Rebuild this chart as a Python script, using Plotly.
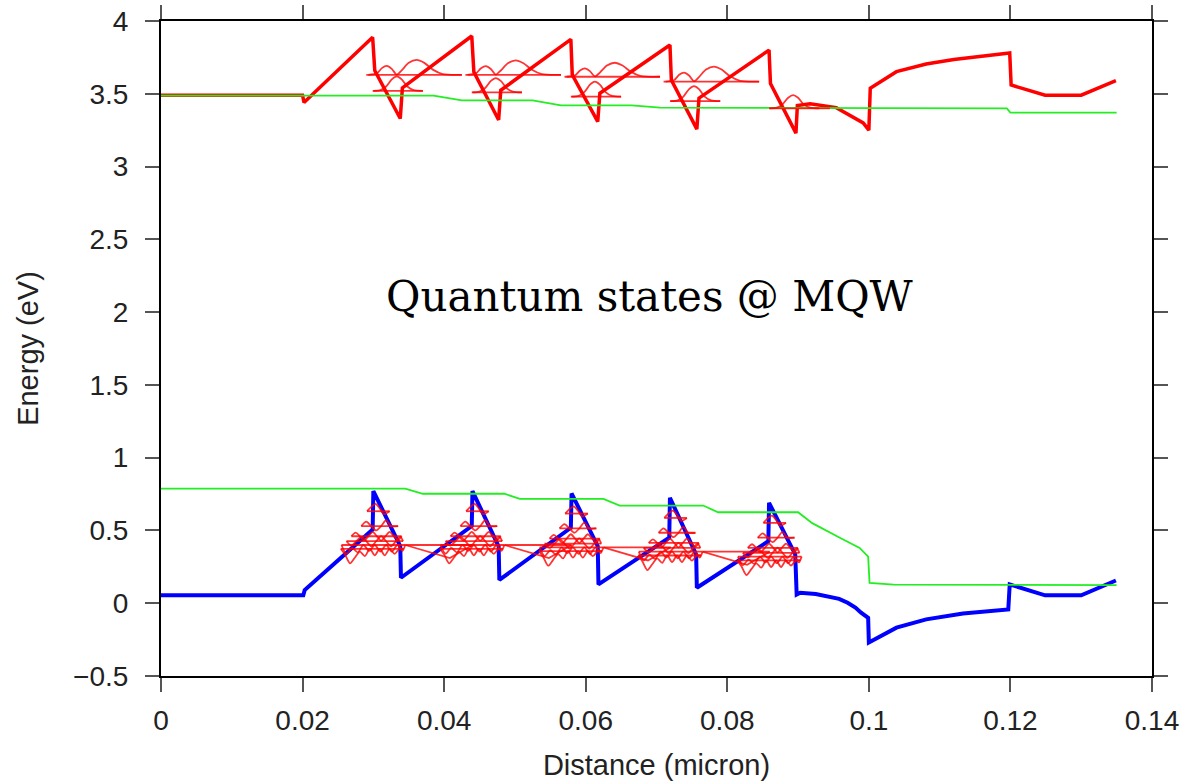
import plotly.graph_objects as go

# ---------------- band edges ----------------
CB_X = [0.0, 0.0200, 0.0202, 0.0299, 0.0302, 0.0338, 0.0341, 0.0439, 0.0442, 0.0477, 0.0480,
        0.0579, 0.0581, 0.0617, 0.0620, 0.0719, 0.0721, 0.0757, 0.0760, 0.0859, 0.0861, 0.0897,
        0.0899, 0.0917, 0.0954, 0.0977, 0.0992, 0.1000, 0.1002, 0.1039, 0.1081, 0.1120, 0.1160,
        0.1199, 0.1201, 0.1249, 0.1300, 0.1349]
CB_E = [3.49, 3.49, 3.44, 3.888, 3.66, 3.33, 3.54, 3.897, 3.65, 3.32, 3.524,
        3.874, 3.63, 3.309, 3.504, 3.835, 3.595, 3.257, 3.47, 3.80, 3.57, 3.23,
        3.42, 3.432, 3.405, 3.345, 3.30, 3.25, 3.538, 3.652, 3.705, 3.735, 3.76,
        3.78, 3.56, 3.49, 3.49, 3.59]

VB_X = [0.0, 0.0201, 0.0203, 0.0299, 0.0300, 0.0338, 0.0339, 0.0439, 0.0440, 0.0477, 0.0478,
        0.0579, 0.0580, 0.0617, 0.0618, 0.0718, 0.0719, 0.0756, 0.0757, 0.0858, 0.0859, 0.0896,
        0.0898, 0.0903, 0.0925, 0.0942, 0.0958, 0.0970, 0.0981, 0.0989, 0.0995, 0.0999, 0.1000,
        0.1039, 0.1081, 0.1133, 0.1197, 0.1199, 0.1249, 0.1300, 0.1349]
VB_E = [0.055, 0.055, 0.09, 0.506, 0.77, 0.392, 0.175, 0.53, 0.77, 0.39, 0.16,
        0.518, 0.754, 0.392, 0.129, 0.45, 0.724, 0.335, 0.106, 0.426, 0.69, 0.335,
        0.06, 0.072, 0.063, 0.049, 0.03, 0.003, -0.03, -0.065, -0.085, -0.10, -0.27,
        -0.168, -0.111, -0.07, -0.043, 0.129, 0.054, 0.054, 0.156]

EFN_X = [0.0, 0.0385, 0.0425, 0.0525, 0.0565, 0.0665, 0.0705, 0.0805, 0.0845, 0.1195, 0.1200, 0.1350]
EFN_E = [3.487, 3.487, 3.455, 3.455, 3.42, 3.42, 3.405, 3.405, 3.40, 3.40, 3.37, 3.37]

EFP_X = [0.0, 0.0345, 0.0370, 0.0485, 0.0507, 0.0625, 0.0648, 0.0766, 0.0787, 0.0900, 0.0920,
         0.0935, 0.0959, 0.0987, 0.0999, 0.1001, 0.1035, 0.1350]
EFP_E = [0.787, 0.787, 0.752, 0.752, 0.717, 0.717, 0.671, 0.671, 0.625, 0.625, 0.55,
         0.51, 0.45, 0.38, 0.32, 0.14, 0.128, 0.125]

# ---------------- quantum wells ----------------
WELL_START = [0.030, 0.044, 0.058, 0.072, 0.086]

# conduction band states
CB_E1 = [3.52, 3.51, 3.48, 3.45, 3.40]
CB_A1 = [0.099, 0.098, 0.103, 0.103, 0.091]
CB_E1_END = [0.0070, 0.0070, 0.0070, 0.0070, 0.0085]
CB_E2 = [3.63, 3.63, 3.617, 3.584, None]
CB_A2 = [0.103, 0.100, 0.096, 0.103, None]
GROUND_DX = [0.0000, 0.0010, 0.0018, 0.0026, 0.0033, 0.0040, 0.0048, 0.0057, 0.0070]
GROUND_SHAPE = [0.0, 0.05, 0.30, 0.80, 1.0, 0.80, 0.30, 0.05, 0.0]
EXC_DX = [-0.0007, 0.0005, 0.0012, 0.0019, 0.0026, 0.0033, 0.0040, 0.0050, 0.0061,
          0.0072, 0.0084, 0.0098, 0.0125]
EXC_SHAPE = [0.0, 0.10, 0.45, 0.60, 0.40, 0.02, 0.30, 0.80, 1.0, 0.80, 0.35, 0.05, 0.0]

# valence band states (relative to well start and VB peak)
VB_PEAK = [0.77, 0.77, 0.754, 0.724, 0.69]
VB_LEVEL_OFF = [-0.138, -0.240, -0.310, -0.344, -0.370, -0.396]
VB_WF_DX = [
    [-0.0009, -0.0003, 0.0003, 0.0009, 0.0015, 0.0023],
    [-0.0017, -0.0010, -0.0003, 0.0004, 0.0011, 0.0018, 0.0025, 0.0035],
    [-0.0031, -0.0025, -0.0019, -0.0013, -0.0007, -0.0001, 0.0005, 0.0011, 0.0017, 0.0023, 0.0029, 0.0035, 0.0040],
    [-0.0038, -0.0031, -0.0024, -0.0017, -0.0010, -0.0003, 0.0004, 0.0011, 0.0018, 0.0025, 0.0032, 0.0038, 0.0042],
    [-0.0045, -0.0038, -0.0030, -0.0022, -0.0014, -0.0006, 0.0002, 0.0010, 0.0018, 0.0026, 0.0034, 0.0041, 0.0045],
    [-0.0046, -0.0040, -0.0033, -0.0026, -0.0019, -0.0012, -0.0005, 0.0002, 0.0009, 0.0016, 0.0023, 0.0030, 0.0037, 0.0043],
]
VB_WF_DY = [
    [0.0, 0.03, 0.05, 0.02, -0.02, 0.0],
    [0.0, 0.03, 0.0, -0.03, 0.0, 0.04, 0.0, 0.0],
    [0.0, 0.025, 0.0, -0.03, 0.0, 0.03, 0.0, -0.03, 0.0, 0.03, 0.0, -0.025, 0.0],
    [0.0, -0.03, 0.0, 0.03, 0.0, -0.035, 0.0, 0.035, 0.0, -0.035, 0.0, 0.03, 0.0],
    [0.0, -0.06, -0.02, -0.05, 0.0, -0.04, 0.0, -0.045, 0.0, -0.045, 0.0, -0.04, 0.0],
    [0.0, -0.04, -0.10, -0.06, -0.02, -0.05, 0.0, -0.045, 0.0, -0.045, 0.0, -0.035, 0.0, 0.0],
]
TAIL_DX = [0.0045, 0.0108, 0.0140]
TAIL_DY = [0.0, -0.09, 0.0]

X_TICKS = [0, 0.02, 0.04, 0.06, 0.08, 0.1, 0.12, 0.14]
Y_TICKS = [-0.5, 0, 0.5, 1, 1.5, 2, 2.5, 3, 3.5, 4]

WF_COLOR = "rgba(255,0,0,0.8)"
WF_W = 1.8

fig = go.Figure()

# band edges
fig.add_trace(go.Scatter(x=CB_X, y=CB_E, mode="lines", line=dict(color="#ff0000", width=3.5)))
fig.add_trace(go.Scatter(x=VB_X, y=VB_E, mode="lines", line=dict(color="#0000ff", width=4)))
fig.add_trace(go.Scatter(x=EFN_X, y=EFN_E, mode="lines", line=dict(color="#22ee22", width=1.8)))
fig.add_trace(go.Scatter(x=EFP_X, y=EFP_E, mode="lines", line=dict(color="#22ee22", width=1.8)))


def wf(xs, ys, spline=True):
    fig.add_trace(go.Scatter(
        x=xs, y=ys, mode="lines",
        line=dict(color=WF_COLOR, width=WF_W, shape="spline" if spline else "linear", smoothing=0.8)))


# conduction band wavefunctions
for i, s in enumerate(WELL_START):
    e1, a1 = CB_E1[i], CB_A1[i]
    wf([s - 0.0001, s + CB_E1_END[i]], [e1, e1], spline=False)
    wf([s + d for d in GROUND_DX], [e1 + a1 * g for g in GROUND_SHAPE])
    if CB_E2[i] is not None:
        e2, a2 = CB_E2[i], CB_A2[i]
        wf([s - 0.0010, s + 0.0125], [e2, e2], spline=False)
        wf([s + d for d in EXC_DX], [e2 + a2 * g for g in EXC_SHAPE])

# valence band wavefunctions
for i, s in enumerate(WELL_START):
    for k, off in enumerate(VB_LEVEL_OFF):
        lev = VB_PEAK[i] + off
        dxs = VB_WF_DX[k]
        wf([s + dxs[0], s + dxs[-1]], [lev, lev], spline=False)
        wf([s + d for d in dxs], [lev + d for d in VB_WF_DY[k]])
    if i < 4:
        lev = VB_PEAK[i] + VB_LEVEL_OFF[4]
        wf([s + TAIL_DX[0], s + TAIL_DX[-1]], [lev, lev], spline=False)
        wf([s + d for d in TAIL_DX], [lev + d for d in TAIL_DY], spline=False)

fig.add_annotation(x=0.0691, y=2.106, xref="x", yref="y", text="Quantum states @ MQW",
                   showarrow=False, xanchor="center", yanchor="middle",
                   font=dict(family="DejaVu Serif", size=42, color="#000000"))

axis_common = dict(showline=True, linecolor="#000000", linewidth=2, mirror="ticks",
                   ticks="outside", ticklen=14, tickwidth=2, tickcolor="#555555",
                   showgrid=False, zeroline=False, automargin=False,
                   tickfont=dict(family="Liberation Sans, Arial", size=28, color="#222222"))

fig.update_layout(
    width=1190, height=782,
    margin=dict(l=161, r=38, t=21, b=106),
    paper_bgcolor="white", plot_bgcolor="white",
    showlegend=False,
    xaxis=dict(range=[0, 0.14], tickvals=X_TICKS, ticklabelstandoff=4,
               title=dict(text="Distance (micron)", standoff=20,
                          font=dict(family="Liberation Sans, Arial", size=29, color="#222222")),
               **axis_common),
    yaxis=dict(range=[-0.5, 4], tickvals=Y_TICKS, ticklabelstandoff=11,
               title=dict(text="Energy (eV)", standoff=26,
                          font=dict(family="Liberation Sans, Arial", size=29, color="#222222")),
               **axis_common),
)

fig.write_html("out.html")
